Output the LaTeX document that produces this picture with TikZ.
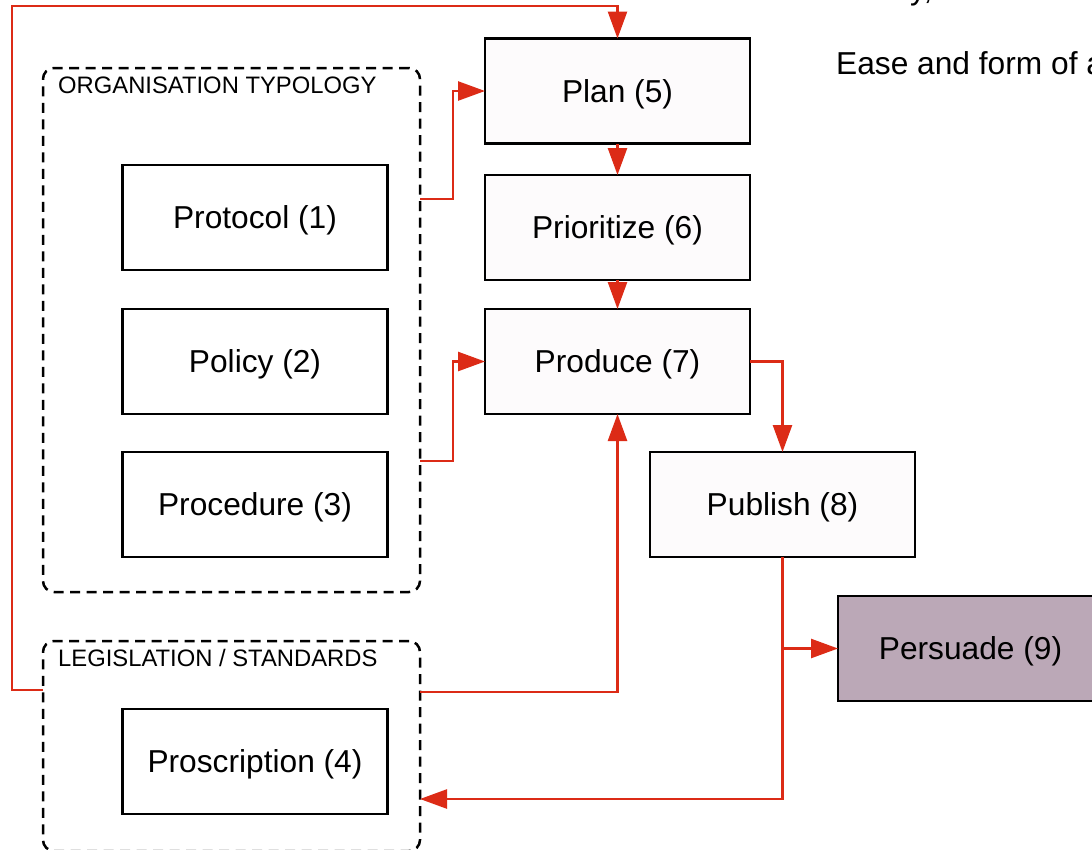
\documentclass[tikz,border=0pt]{standalone}
\usepackage{fontspec}
\setmainfont{Liberation Sans}
\usetikzlibrary{arrows.meta}
\definecolor{flowred}{HTML}{DC2B16}
\definecolor{boxfill}{HTML}{FDFBFC}
\definecolor{persfill}{HTML}{BBA8B7}
\tikzset{
  stage/.style={draw=black, line width=2.5pt, fill=boxfill, minimum width=265pt,
    minimum height=105pt, inner sep=0pt, outer sep=0pt,
    text height=30pt, text depth=7.3pt,
    font=\fontsize{31.7}{38}\selectfont},
  typebox/.style={stage, fill=white},
  groupbox/.style={draw=black, line width=2.5pt, dash pattern=on 10pt off 6.5pt,
    rounded corners=11pt, inner sep=0pt, outer sep=0pt, minimum width=377pt},
  grouplabel/.style={anchor=base west, inner sep=0pt, font=\fontsize{23.8}{28}\selectfont},
  note/.style={anchor=base west, inner sep=0pt, font=\fontsize{31.7}{38}\selectfont},
  flow/.style={draw=flowred, line width=2.5pt, -{Triangle[length=27pt,width=19pt]}},
}
\begin{document}
\begin{tikzpicture}[x=1pt,y=-1pt]
\useasboundingbox (0,0) rectangle (1092,849);
\clip (0,0) rectangle (1092,849);
\fill[white] (0,0) rectangle (1092,849);

% grouping frames
\node[groupbox, minimum height=524pt] (org) at (231.5,330) {};
\node[groupbox, minimum height=210pt] (leg) at (231.5,746) {};
\node[grouplabel] (orglabel) at (58,93) {ORGANISATION TYPOLOGY};
\node[grouplabel] (leglabel) at (58,666) {LEGISLATION / STANDARDS};

% document types
\node[typebox] (protocol) at (255,217.5) {Protocol (1)};
\node[typebox] (policy) at (255,361.5) {Policy (2)};
\node[typebox] (procedure) at (255,504.5) {Procedure (3)};
\node[typebox] (proscription) at (255,761.5) {Proscription (4)};

% process stages
\node[stage] (plan) at (617.5,91) {Plan (5)};
\node[stage] (prio) at (617.5,227.5) {Prioritize (6)};
\node[stage] (produce) at (617.5,361.5) {Produce (7)};
\node[stage] (publish) at (782.5,504.5) {Publish (8)};
\node[stage, fill=persfill] (persuade) at (970.5,648.5) {Persuade (9)};

% notes on the right
\node[note] (clarity) at (836,-0.5) {Clarity, tone and style};
\node[note] (ease) at (836,74) {Ease and form of access};

% connectors
\coordinate (loop) at (12,6);
\draw[flow] ([yshift=131pt]org.east) -- ++(33,0) |- (plan.west);
\draw[flow] ([yshift=-131pt]org.east) -- ++(33,0) |- (produce.west);
\draw[flow] (plan.south) -- (prio.north);
\draw[flow] (prio.south) -- (produce.north);
\draw[flow] (produce.east) -| (publish.north);
\draw[flow] ([yshift=54pt]leg.east) -| (produce.south);
\draw[flow] (publish.south) |- (persuade.west);
\draw[flow] (publish.south) |- ([yshift=-53pt]leg.east);
\draw[flow] ([yshift=56pt]leg.west) -| (loop) -| (plan.north);
\end{tikzpicture}
\end{document}
